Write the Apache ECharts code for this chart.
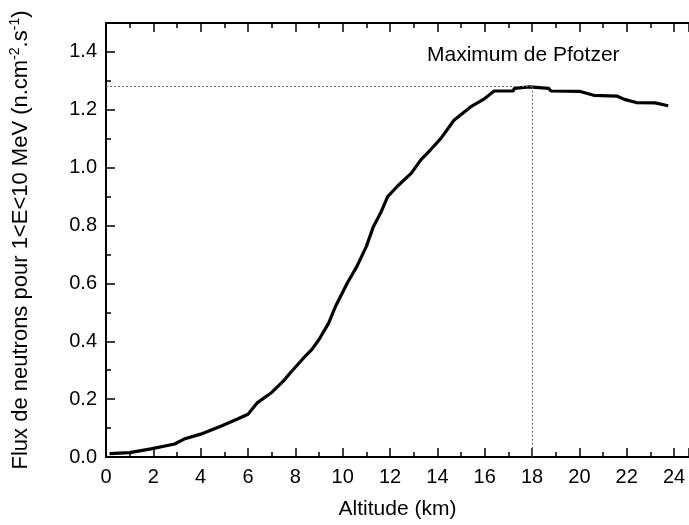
<!DOCTYPE html>
<html>
<head>
<meta charset="utf-8">
<script src="https://cdn.jsdelivr.net/npm/echarts@6/dist/echarts.min.js"></script>
<style>html,body{margin:0;padding:0;background:#fff}#c{width:689px;height:525px}</style>
</head>
<body>
<div id="c"></div>
<script>
const altitude = [0.15, 1.0, 1.9, 2.9, 3.3, 4.0, 4.9, 5.6, 6.0, 6.4, 7.0, 7.5, 7.8, 8.3, 8.7, 9.0, 9.4, 9.7, 10.2, 10.6, 11.0, 11.3, 11.6, 11.9, 12.3, 12.9, 13.3, 13.7, 14.15, 14.7, 15.4, 16.0, 16.4, 17.2, 17.25, 17.9, 18.7, 18.8, 20.0, 20.6, 21.6, 21.9, 22.4, 23.2, 23.75];
const flux = [0.012, 0.015, 0.028, 0.045, 0.062, 0.079, 0.108, 0.133, 0.148, 0.188, 0.223, 0.263, 0.292, 0.338, 0.372, 0.406, 0.462, 0.521, 0.602, 0.659, 0.728, 0.797, 0.843, 0.900, 0.935, 0.981, 1.027, 1.061, 1.101, 1.164, 1.210, 1.239, 1.265, 1.265, 1.274, 1.279, 1.274, 1.265, 1.264, 1.250, 1.247, 1.236, 1.225, 1.224, 1.214];
const peakAltitude = 18;
const peakFlux = 1.28;
const annotation = "Maximum de Pfotzer";
const xTitle = "Altitude (km)";

const font = "Liberation Sans, Arial, sans-serif";
const chart = echarts.init(document.getElementById('c'));
const axisCommon = {
  axisLine: {show: true, onZero: false, lineStyle: {color: '#000', width: 2}},
  axisTick: {show: true, inside: true, length: 9, lineStyle: {color: '#000', width: 1.5}},
  minorTick: {show: true, splitNumber: 2, length: 5, lineStyle: {color: '#000', width: 1.5}},
  splitLine: {show: false}
};
chart.setOption({
  animation: false,
  backgroundColor: '#fff',
  textStyle: {fontFamily: font},
  grid: {left: 104, top: 23, bottom: 67, right: 0},
  xAxis: [
    Object.assign({}, axisCommon, {
      type: 'value', min: 0, max: 24.63, interval: 2, position: 'bottom',
      axisLabel: {show: true, color: '#000', fontSize: 20, fontFamily: font, margin: 10, showMaxLabel: false},
      name: xTitle, nameLocation: 'middle', nameGap: 42,
      nameTextStyle: {color: '#000', fontSize: 21, fontFamily: font}
    }),
    Object.assign({}, axisCommon, {
      type: 'value', min: 0, max: 24.63, interval: 2, position: 'top',
      axisLabel: {show: false}
    })
  ],
  yAxis: [
    Object.assign({}, axisCommon, {
      type: 'value', min: 0, max: 1.5, interval: 0.2, position: 'left',
      axisLabel: {show: true, color: '#000', fontSize: 20, fontFamily: font, margin: 9, showMaxLabel: false,
        formatter: v => v.toFixed(1)},
      name: '{n|Flux de neutrons pour 1<E<10 MeV (n.cm}{s|-2}{n|.s}{s|-1}{n|)}',
      nameLocation: 'middle', nameGap: 72, nameRotate: 90,
      nameTextStyle: {
        color: '#000', fontSize: 22, fontFamily: font,
        rich: {
          n: {fontSize: 22, fontFamily: font, color: '#000', lineHeight: 26},
          s: {fontSize: 14, fontFamily: font, color: '#000', verticalAlign: 'top', lineHeight: 26, padding: [0, 0, 12, 0]}
        }
      }
    })
  ],
  graphic: [{
    type: 'text', left: 427, top: 45,
    style: {text: annotation, fill: '#000', font: '21px ' + font}
  }],
  series: [{
    type: 'line',
    data: altitude.map((a, i) => [a, flux[i]]),
    showSymbol: false,
    lineStyle: {color: '#000', width: 3.2},
    markLine: {
      silent: true, symbol: ['none', 'none'],
      label: {show: false},
      lineStyle: {color: '#666', type: [2, 2], width: 1},
      data: [
        [{coord: [0, peakFlux]}, {coord: [peakAltitude, peakFlux]}],
        [{coord: [peakAltitude, peakFlux]}, {coord: [peakAltitude, 0]}]
      ]
    }
  }]
});
</script>
</body>
</html>
